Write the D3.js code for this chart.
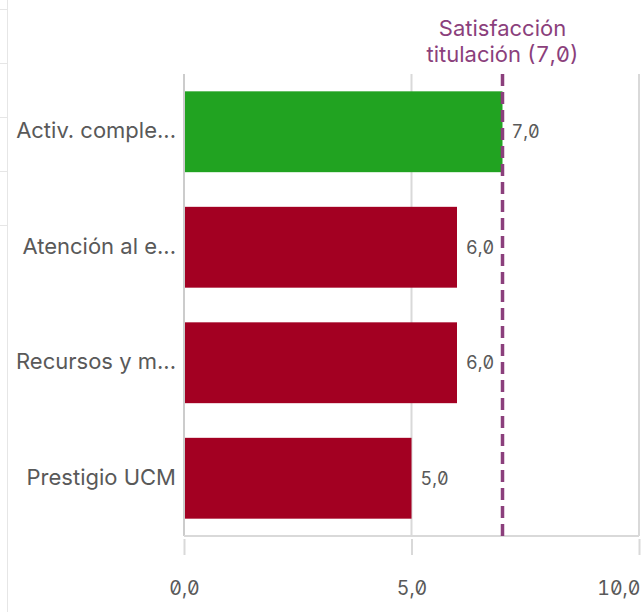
<!DOCTYPE html>
<html>
<head>
<meta charset="utf-8">
<script src="https://cdn.jsdelivr.net/npm/d3@7"></script>
<style>
  html, body { margin: 0; padding: 0; background: #fff; }
  svg { display: block; }
  .num { font-family: Inter, sans-serif; font-feature-settings: "tnum" 1, "zero" 1; }
</style>
</head>
<body>
<svg id="chart" width="641" height="612"></svg>
<script>
// Satisfaction scores per area, compared with the overall degree score
const categories = ["Activ. comple...", "Atención al e...", "Recursos y m...", "Prestigio UCM"];
const values = [7.0, 6.0, 6.0, 5.0];
const barColors = ["#21a321", "#a30022", "#a30022", "#a30022"];
const referenceValue = 7.0;
const referenceLabel = ["Satisfacción", "titulación (7,0)"];
const xTicks = [0, 5, 10];

const fmt = v => d3.format(".1f")(v).replace(".", ",");

const svg = d3.select("#chart");
const margin = { left: 184, right: 2, top: 74, bottom: 76 };
const W = 641, H = 612;

const x = d3.scaleLinear().domain([0, 10]).range([margin.left, W - margin.right]);
const y = d3.scaleBand().domain(categories)
  .range([margin.top, H - margin.bottom])
  .paddingInner(0.3).paddingOuter(0.15);

// faint panel edge on the far left
const edge = svg.append("g").attr("stroke", "#e6e6e6").attr("stroke-width", 1);
edge.append("line").attr("x1", 7.5).attr("x2", 7.5).attr("y1", 0).attr("y2", H);
[9, 63, 117, 171, 225].forEach(v => {
  edge.append("line").attr("x1", 0).attr("x2", 7).attr("y1", v + 0.5).attr("y2", v + 0.5);
});

// vertical grid lines
svg.append("g").selectAll("line")
  .data(xTicks.filter(t => t > 0))
  .join("line")
  .attr("x1", d => x(d)).attr("x2", d => x(d))
  .attr("y1", margin.top).attr("y2", H - margin.bottom)
  .attr("stroke", "#d9d9d9").attr("stroke-width", 2);

// bars
svg.append("g").selectAll("rect")
  .data(values)
  .join("rect")
  .attr("x", x(0) + 1)
  .attr("y", (d, i) => y(categories[i]))
  .attr("width", d => x(d) - x(0) - 1)
  .attr("height", y.bandwidth())
  .attr("fill", (d, i) => barColors[i]);

// axis lines
svg.append("line")
  .attr("x1", x(0)).attr("x2", x(0))
  .attr("y1", margin.top).attr("y2", H - margin.bottom)
  .attr("stroke", "#cccccc").attr("stroke-width", 2);
svg.append("line")
  .attr("x1", x(0)).attr("x2", x(10))
  .attr("y1", H - margin.bottom).attr("y2", H - margin.bottom)
  .attr("stroke", "#d9d9d9").attr("stroke-width", 2);

// bottom axis
const xAxis = d3.axisBottom(x).tickValues(xTicks).tickSize(16).tickPadding(26).tickFormat(fmt);
const ax = svg.append("g")
  .attr("transform", `translate(0,${H - margin.bottom + 3})`)
  .call(xAxis);
ax.select(".domain").remove();
ax.selectAll(".tick line").attr("stroke", "#d9d9d9").attr("stroke-width", 2);
ax.selectAll(".tick text")
  .attr("class", "num")
  .attr("fill", "#595959")
  .style("font-size", "19.5px");
ax.selectAll(".tick").filter(d => d === 10).select("text").attr("text-anchor", "end").attr("dx", "1");

// category labels
svg.append("g").selectAll("text")
  .data(categories)
  .join("text")
  .attr("x", margin.left - 8)
  .attr("y", d => y(d) + y.bandwidth() / 2)
  .attr("dy", "0.3em")
  .attr("text-anchor", "end")
  .attr("fill", "#595959")
  .style("font-family", "Inter, sans-serif")
  .style("font-size", "22px")
  .text(d => d);

// reference line
svg.append("line")
  .attr("x1", x(referenceValue)).attr("x2", x(referenceValue))
  .attr("y1", margin.top).attr("y2", H - margin.bottom)
  .attr("stroke", "#8b3f7c").attr("stroke-width", 3.5)
  .attr("stroke-dasharray", "12,6");

svg.append("g").selectAll("text")
  .data(referenceLabel)
  .join("text")
  .attr("class", "num")
  .attr("x", x(referenceValue))
  .attr("y", (d, i) => 36 + i * 26)
  .attr("text-anchor", "middle")
  .attr("fill", "#8b3f7c")
  .style("font-size", "22px")
  .text(d => d);

// value labels
svg.append("g").selectAll("text")
  .data(values)
  .join("text")
  .attr("class", "num")
  .attr("x", d => x(d) + 9)
  .attr("y", (d, i) => y(categories[i]) + y.bandwidth() / 2)
  .attr("dy", "0.35em")
  .attr("fill", "#595959")
  .style("font-size", "18px")
  .text(fmt);
</script>
</body>
</html>
